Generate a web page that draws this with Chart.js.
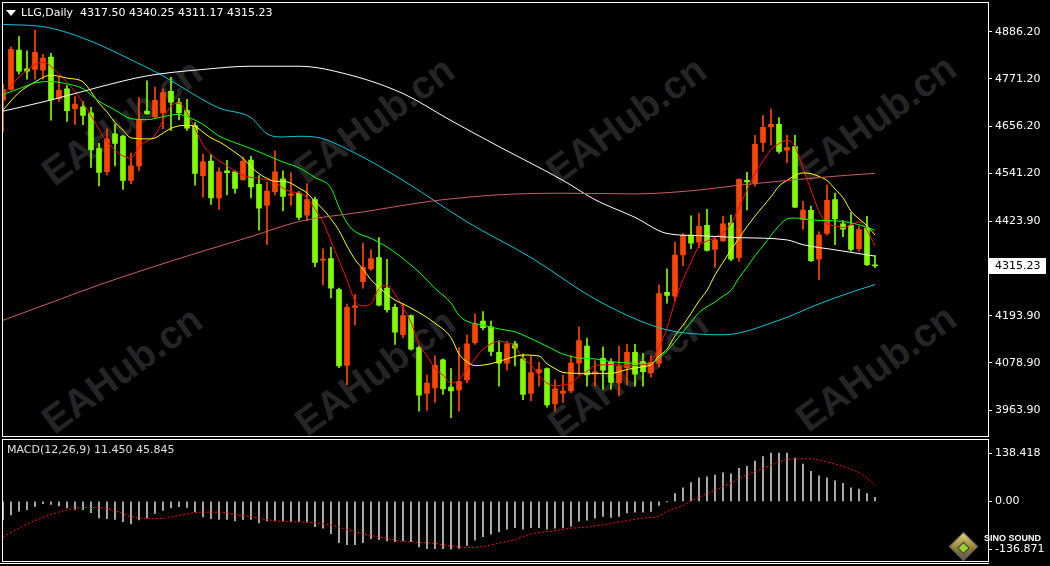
<!DOCTYPE html>
<html>
<head>
<meta charset="utf-8">
<title>LLG,Daily</title>
<script src="https://cdn.jsdelivr.net/npm/chart.js@4.4.1/dist/chart.umd.min.js"></script>
<style>
  html, body { margin: 0; padding: 0; background: #000; }
  body { width: 1050px; height: 566px; position: relative; overflow: hidden; font-family: "DejaVu Sans", sans-serif; }
  .wm { position: absolute; font: bold 39px "Liberation Sans", Arial, sans-serif; color: #252525;
        transform: translate(-50%, -50%) rotate(-36deg); white-space: nowrap; }
  canvas { position: absolute; left: 0; }
  #main { top: 0; }
  #macd { top: 437px; }
  .box { position: absolute; border: 1px solid #fff; box-sizing: border-box; }
  .hl { position: absolute; height: 1px; background: #fff; }
  .lbl { position: absolute; font-size: 11px; line-height: 14px; white-space: pre; }
  .tri { position: absolute; left: 6px; top: 10px; width: 0; height: 0;
         border-left: 5px solid transparent; border-right: 5px solid transparent; border-top: 6px solid #fff; }
  .logo { position: absolute; left: 953px; top: 536px; width: 19px; height: 19px; transform: rotate(45deg);
          background: linear-gradient(135deg, #e8d27a, #8c7a32 60%, #5a5a5a); border: 1px solid #777; }
  .logo i { position: absolute; left: 6px; top: 6px; width: 7px; height: 7px; background: #9acd32; border: 1px solid #333; }
  .sino { position: absolute; left: 984px; top: 533px; font: bold 9px "Liberation Sans", Arial, sans-serif; color: #fff; }
</style>
</head>
<body>
<div class="wm" style="left:122px;top:122px">EAHub.cn</div>
<div class="wm" style="left:374px;top:120px">EAHub.cn</div>
<div class="wm" style="left:626px;top:120px">EAHub.cn</div>
<div class="wm" style="left:876px;top:118px">EAHub.cn</div>
<div class="wm" style="left:122px;top:370px">EAHub.cn</div>
<div class="wm" style="left:375px;top:372px">EAHub.cn</div>
<div class="wm" style="left:628px;top:374px">EAHub.cn</div>
<div class="wm" style="left:876px;top:368px">EAHub.cn</div>

<canvas id="main" width="1050" height="437"></canvas>
<canvas id="macd" width="1050" height="129"></canvas>

<div class="box" style="left:2px;top:2px;width:987px;height:435px"></div>
<div class="box" style="left:2px;top:439px;width:987px;height:123px"></div>
<div class="hl" style="left:0;top:563px;width:989px"></div>

<div class="tri"></div>
<div class="lbl" style="left:21px;top:6px;color:#fff">LLG,Daily  4317.50 4340.25 4311.17 4315.23</div>
<div class="lbl" style="left:7px;top:443px;color:#e0e0e0">MACD(12,26,9) 11.450 45.845</div>

<div class="logo"><i></i></div>
<div class="sino">SINO SOUND</div>

<script>
// daily candles, oldest first (orange = up, green = down)
const open = [4719.2, 4745.8, 4841.5, 4796.1, 4794.4, 4792.8, 4824.3, 4722.2, 4747.4, 4698.7,
  4703.4, 4688.6, 4601.5, 4545.0, 4637.5, 4632.1, 4523.8, 4559.2, 4692.6, 4678.5,
  4688.6, 4741.0, 4713.7, 4694.9, 4657.3, 4535.6, 4570.9, 4480.8, 4547.4, 4545.0,
  4525.5, 4573.3, 4514.4, 4462.7, 4496.3, 4527.8, 4486.9, 4492.6, 4439.2, 4476.8,
  4329.3, 4333.3, 4257.3, 4072.8, 4214.0, 4276.8, 4308.1, 4335.6, 4261.0, 4214.0,
  4147.4, 4194.4, 4116.1, 4004.6, 4018.0, 4086.2, 4019.6, 4012.6, 4037.5, 4127.9,
  4181.0, 4166.9, 4104.3, 4078.4, 4125.5, 4088.6, 4004.6, 4054.9, 4065.0, 3978.7,
  4004.6, 4010.2, 4078.4, 4119.9, 4051.6, 4090.2, 4080.8, 4029.7, 4067.4, 4104.3,
  4082.2, 4054.9, 4078.4, 4250.9, 4241.5, 4342.0, 4390.4, 4373.3, 4414.0, 4355.2,
  4376.3, 4420.3, 4335.6, 4523.8, 4517.5, 4616.3, 4654.0, 4660.3, 4597.5, 4606.2,
  4428.1, 4450.9, 4331.6, 4394.4, 4476.8, 4418.0, 4414.0, 4357.5, 4407.8, 4317.50];
const high = [4759.2, 4849.3, 4874.4, 4839.8, 4890.2, 4831.4, 4833.7, 4774.9, 4755.1, 4727.9,
  4716.1, 4702.0, 4613.9, 4649.3, 4661.0, 4634.0, 4590.4, 4725.5, 4766.9, 4751.4,
  4747.4, 4774.9, 4723.9, 4721.5, 4665.0, 4588.1, 4586.7, 4555.2, 4572.6, 4547.4,
  4580.3, 4582.7, 4535.6, 4519.9, 4596.1, 4547.4, 4542.7, 4496.3, 4516.1, 4483.1,
  4356.8, 4360.8, 4261.0, 4222.0, 4245.5, 4370.9, 4355.2, 4384.3, 4331.6, 4222.0,
  4222.0, 4196.1, 4119.9, 4049.3, 4096.3, 4088.6, 4065.0, 4116.1, 4147.4, 4198.5,
  4203.8, 4181.0, 4133.3, 4131.6, 4131.6, 4100.3, 4096.3, 4080.8, 4066.7, 4037.5,
  4049.3, 4096.3, 4166.9, 4139.6, 4084.6, 4117.5, 4088.6, 4119.9, 4123.9, 4123.9,
  4101.9, 4096.3, 4269.0, 4308.1, 4373.3, 4394.4, 4437.5, 4443.8, 4453.3, 4382.7,
  4436.1, 4439.2, 4527.8, 4543.4, 4633.7, 4682.2, 4698.0, 4676.8, 4633.7, 4633.7,
  4472.8, 4461.0, 4398.4, 4512.1, 4492.6, 4425.7, 4445.5, 4412.6, 4436.1, 4340.25];
const low = [4641.5, 4744.0, 4782.7, 4770.9, 4770.9, 4770.9, 4670.4, 4716.1, 4667.4, 4659.6,
  4659.6, 4555.2, 4510.4, 4537.3, 4559.2, 4502.0, 4516.1, 4547.4, 4684.6, 4676.8,
  4649.3, 4645.5, 4671.4, 4645.5, 4512.1, 4483.1, 4465.0, 4453.3, 4488.6, 4492.6,
  4523.8, 4480.8, 4402.2, 4366.9, 4488.6, 4449.3, 4462.7, 4428.1, 4425.7, 4313.7,
  4269.0, 4237.5, 4067.4, 4025.7, 4170.9, 4261.0, 4304.3, 4218.0, 4202.2, 4123.9,
  4139.6, 4109.7, 3960.8, 3963.2, 3982.7, 4002.2, 3945.0, 3960.8, 4029.7, 4123.9,
  4159.2, 4096.3, 4021.9, 4061.0, 4071.4, 3989.0, 3986.7, 4022.0, 3970.9, 3960.8,
  3982.7, 4006.2, 4049.3, 4022.0, 4022.0, 4014.0, 4014.0, 3998.5, 4025.7, 4022.0,
  4022.0, 4043.9, 4069.1, 4224.3, 4229.8, 4316.1, 4357.5, 4359.7, 4351.4, 4312.1,
  4374.9, 4327.9, 4326.2, 4451.6, 4509.7, 4594.5, 4610.2, 4590.4, 4566.9, 4457.3,
  4404.5, 4326.2, 4282.2, 4390.4, 4366.9, 4386.7, 4351.4, 4351.4, 4316.1, 4311.17];
const close = [4745.0, 4843.2, 4790.4, 4790.4, 4836.1, 4821.9, 4719.8, 4743.4, 4694.0, 4709.7,
  4682.2, 4598.4, 4543.4, 4625.0, 4613.9, 4523.8, 4559.2, 4671.4, 4686.2, 4719.1,
  4738.0, 4714.4, 4688.6, 4650.9, 4541.0, 4569.3, 4480.8, 4545.0, 4542.7, 4504.3,
  4570.9, 4508.1, 4456.3, 4498.0, 4545.0, 4484.6, 4490.9, 4433.7, 4476.8, 4323.9,
  4331.6, 4261.0, 4071.4, 4214.0, 4218.0, 4312.1, 4333.3, 4219.6, 4208.6, 4153.8,
  4194.4, 4112.1, 3999.8, 4029.7, 4072.8, 4015.6, 4010.2, 4033.7, 4125.5, 4173.3,
  4164.6, 4106.7, 4078.4, 4125.5, 4114.5, 4002.2, 4054.9, 4062.7, 3976.3, 4015.6,
  4010.2, 4078.4, 4133.3, 4049.3, 4057.3, 4061.0, 4031.4, 4070.4, 4104.3, 4051.6,
  4057.3, 4080.8, 4247.9, 4243.2, 4342.0, 4390.4, 4370.9, 4411.6, 4352.8, 4378.7,
  4417.8, 4331.6, 4526.2, 4519.9, 4611.6, 4653.3, 4660.3, 4594.5, 4603.9, 4458.7,
  4451.6, 4327.9, 4390.4, 4475.2, 4429.8, 4404.6, 4355.2, 4403.9, 4318.5, 4315.23];

// moving averages as [bar, price]
const maRed = [[0,4731],[2,4775.6],[5,4812.1],[7,4782.7],[9,4740.3],[11,4681.5],[13,4618.0],[16,4578.0],
  [17,4606.2],[19,4634.4],[21,4705.0],[22,4712.1],[23,4688.6],[24,4650.9],[25,4610.9],[26,4587.4],
  [28,4559.2],[30,4535.6],[32,4528.6],[34,4519.9],[35,4505.0],[36,4496.3],[37,4493.3],[38,4481.5],
  [39,4453.3],[40,4422.7],[41,4375.6],[42,4328.6],[43,4281.5],[44,4229.8],[45,4218.0],[46,4222.7],
  [47,4260.3],[48,4267.4],[49,4246.2],[50,4213.3],[51,4177.9],[52,4123.9],[53,4095.6],[54,4065.0],
  [55,4048.6],[56,4029.7],[57,4036.8],[58,4065.0],[59,4088.6],[60,4112.1],[62,4130.9],[63,4128.6],
  [64,4119.2],[65,4088.6],[66,4074.5],[67,4048.6],[68,4029.7],[69,4022.7],[70,4025.0],[71,4029.7],
  [72,4046.2],[73,4058.0],[74,4072.1],[76,4074.5],[78,4072.1],[80,4074.5],[81,4081.5],[82,4116.8],
  [83,4163.8],[84,4229.8],[85,4281.5],[86,4323.9],[87,4363.8],[88,4375.6],[89,4385.0],[90,4396.8],
  [91,4418.0],[92,4458.0],[93,4500.3],[94,4540.3],[95,4570.9],[96,4599.1],[97,4613.2],[98,4622.0],
  [99,4606.2],[100,4552.1],[101,4500.3],[102,4448.6],[103,4418.0],[104,4413.3],[105,4408.6],
  [106,4415.6],[107,4422.7],[108,4402.2],[109,4363.8]];
const maYellow = [[0,4695.6],[2,4738.0],[4,4763.9],[6,4780.3],[8,4773.3],[10,4763.9],[11,4740.3],
  [12,4712.1],[13,4690.9],[14,4665.0],[15,4646.2],[16,4627.4],[18,4625.0],[19,4627.4],[20,4639.2],
  [21,4650.9],[22,4656.8],[23,4658.0],[24,4655.6],[25,4641.5],[26,4627.4],[27,4618.0],[28,4606.2],
  [29,4592.1],[30,4578.0],[31,4556.8],[32,4540.3],[33,4528.6],[34,4521.5],[35,4521.5],[36,4516.8],
  [37,4505.0],[38,4493.3],[39,4472.1],[40,4453.3],[41,4429.8],[42,4401.6],[43,4363.8],[44,4330.9],
  [45,4307.4],[46,4281.5],[47,4262.7],[48,4246.2],[49,4232.1],[50,4222.7],[52,4201.5],[54,4175.6],
  [56,4140.3],[57,4100.3],[58,4081.5],[59,4072.1],[61,4076.8],[63,4088.6],[65,4098.0],[67,4095.6],
  [68,4076.8],[69,4065.0],[70,4055.6],[72,4053.3],[74,4053.3],[76,4053.3],[78,4062.7],[80,4069.7],
  [81,4074.5],[82,4095.6],[83,4112.1],[84,4145.0],[85,4170.9],[86,4199.1],[87,4229.8],[88,4255.6],
  [89,4293.3],[90,4323.9],[91,4354.5],[92,4382.7],[93,4411.0],[94,4436.8],[95,4460.3],[96,4483.9],
  [97,4509.7],[98,4523.8],[99,4535.6],[100,4542.0],[101,4540.3],[102,4533.3],[103,4523.8],
  [104,4502.7],[105,4481.5],[106,4448.6],[107,4429.8],[108,4413.3],[109,4390.4]];
const maGreen = [[0,4733.3],[2,4747.4],[4,4761.5],[6,4765.0],[8,4759.1],[10,4747.4],[12,4716.8],
  [14,4695.6],[16,4674.4],[18,4672.1],[20,4679.1],[22,4685.0],[23,4679.1],[25,4660.3],[27,4632.1],
  [29,4615.6],[31,4601.5],[33,4585.0],[35,4568.6],[37,4554.5],[39,4530.9],[41,4505.0],[42,4458.0],
  [43,4420.3],[44,4399.1],[46,4382.7],[48,4361.5],[50,4333.3],[52,4300.3],[54,4260.3],[56,4225.0],
  [57,4194.4],[58,4180.3],[60,4170.9],[62,4161.5],[64,4154.4],[66,4138.0],[68,4119.2],[70,4100.3],
  [72,4090.9],[74,4088.6],[76,4081.5],[78,4079.1],[80,4076.8],[81,4076.8],[82,4090.9],[83,4107.4],
  [84,4130.9],[85,4154.4],[86,4177.9],[87,4201.5],[88,4215.6],[89,4227.4],[90,4241.5],[91,4255.6],
  [92,4286.2],[93,4312.1],[94,4340.3],[95,4363.8],[96,4389.7],[97,4413.3],[98,4429.8],[99,4432.1],
  [101,4427.4],[103,4425.7],[105,4423.8],[107,4415.6],[109,4402.2]];
const maCyan = [[0,4904.3],[5,4898.7],[8,4884.5],[12,4854.9],[16,4818.0],[20,4778.7],[23,4743.4],
  [27,4700.3],[31,4676.8],[33,4637.5],[35,4629.7],[37,4631.4],[39,4629.7],[44,4590.4],[50,4523.8],
  [58,4422.7],[66,4335.6],[74,4234.4],[81,4170.9],[84,4155.2],[87,4149.0],[90,4147.4],[97,4182.7],
  [102,4222.7],[106,4251.0],[109,4269.7]];
const maWhite = [[0,4692.6],[6,4719.9],[12,4751.4],[18,4778.7],[25,4794.4],[31,4802.2],[37,4802.2],
  [43,4782.7],[50,4735.6],[56,4669.7],[62,4606.2],[70,4523.8],[74,4476.8],[79,4433.7],[83,4394.4],
  [87,4389.0],[92,4384.3],[98,4378.7],[100,4367.0],[104,4354.5],[109,4339.2]];
const maSalmon = [[0,4182.7],[6,4225.8],[12,4269.0],[18,4308.1],[25,4351.4],[31,4386.7],[37,4423.4],
  [45,4446.9],[54,4474.4],[62,4488.6],[70,4492.6],[79,4490.9],[87,4500.3],[92,4512.1],[105,4535.6],
  [109,4541.0]];

// MACD(12,26,9): histogram per bar, signal read as [bar, value]
const macdHist = [-53.2, -38.6, -28.3, -24.0, -14.6, -6.9, -8.6, -12.9, -18.9, -23.2,
  -24.0, -32.6, -47.2, -49.8, -51.5, -58.3, -64.4, -53.2, -47.2, -34.3,
  -25.7, -18.9, -15.4, -17.2, -30.0, -44.6, -49.8, -51.5, -51.5, -55.8,
  -51.5, -51.5, -61.8, -55.8, -55.8, -55.8, -58.3, -58.3, -58.3, -72.9,
  -77.2, -92.7, -118.4, -124.4, -124.4, -118.4, -107.3, -109.8, -113.3, -115.8,
  -113.3, -115.8, -130.4, -136.0, -135.5, -135.5, -136.871, -135.0, -127.0, -111.5,
  -101.2, -94.4, -87.5, -79.9, -75.5, -79.9, -75.5, -75.5, -79.9, -77.2,
  -75.5, -71.3, -56.9, -54.3, -48.4, -43.3, -45.9, -43.3, -33.1, -31.4,
  -31.4, -28.8, -11.9, -0.9, 22.1, 39.0, 53.5, 67.1, 70.5, 75.5,
  81.5, 79.0, 94.2, 100.2, 115.5, 128.2, 138.418, 138.4, 138.4, 123.9,
  107.0, 85.8, 73.0, 67.1, 58.6, 51.8, 39.0, 34.8, 22.1, 11.450];
const macdSignal = [[0,-102],[2,-76.4],[4,-55],[6,-37.8],[8,-25],[10,-18],[12,-18],[14,-26.8],
  [16,-43.7],[18,-48.9],[20,-48.9],[22,-40.4],[25,-30.9],[27,-30.9],[29,-37.8],[31,-43.7],
  [33,-52.5],[35,-57.6],[37,-59.2],[39,-61.8],[41,-67.9],[43,-80.8],[45,-93.7],[48,-106.5],
  [50,-115],[52,-117.6],[54,-120.9],[56,-127.9],[58,-132.3],[60,-129.7],[62,-119.5],[64,-110],
  [66,-94],[69,-84],[71,-77],[73,-74],[75,-67],[77,-59],[80,-48],[82,-42],[83,-29],[85,-12],
  [86,1],[88,22],[91,52],[93,76],[95,94],[97,113],[98,120],[101,122],[102,118],[104,107],
  [106,92],[107,82],[108,66],[109,45.845]];

const priceTicks = [4886.20, 4771.20, 4656.20, 4541.20, 4423.90, 4193.90, 4078.90, 3963.90];
const macdTicks = [138.418, 0, -136.871];
const lastPrice = close[close.length - 1];

const UP = '#FF4500', DOWN = '#7FFF00';
const candleColors = open.map((o, i) => (close[i] >= o ? UP : DOWN));
const pts = arr => arr.map(([x, y]) => ({ x, y }));
const maLine = (arr, color) => ({
  type: 'line', data: pts(arr), borderColor: color, borderWidth: 1,
  pointRadius: 0, cubicInterpolationMode: 'monotone', order: 0
});

const xScale = { type: 'linear', min: 0, max: 123.125, offset: false, display: false, grid: { offset: false } };
const axisFont = { family: 'DejaVu Sans', size: 11 };

Chart.defaults.animation = false;
Chart.defaults.font.family = 'DejaVu Sans';

const priceTag = {
  id: 'priceTag',
  afterDraw(chart) {
    const { ctx, scales: { y } } = chart;
    const py = Math.round(y.getPixelForValue(lastPrice));
    ctx.save();
    ctx.fillStyle = '#fff';
    ctx.fillRect(989, py - 8, 57, 16);
    ctx.fillStyle = '#000';
    ctx.font = '11px "DejaVu Sans"';
    ctx.textBaseline = 'middle';
    ctx.fillText(lastPrice.toFixed(2), 995, py + 0.5);
    ctx.restore();
  }
};

new Chart(document.getElementById('main'), {
  type: 'bar',
  data: {
    datasets: [
      maLine(maSalmon, '#CD5C5C'),
      maLine(maWhite, '#FFFFFF'),
      maLine(maCyan, '#00C5D5'),
      maLine(maGreen, '#00FF00'),
      maLine(maYellow, '#FFFF00'),
      maLine(maRed, '#FF0000'),
      { data: open.map((o, i) => ({ x: i, y: [o, close[i]] })), backgroundColor: candleColors,
        barThickness: 5, minBarLength: 1, grouped: false, order: 1 },
      { data: open.map((o, i) => ({ x: i, y: [low[i], high[i]] })), backgroundColor: candleColors,
        barThickness: 1, grouped: false, order: 2 }
    ]
  },
  options: {
    responsive: false, devicePixelRatio: 1,
    layout: { padding: { left: 3, top: 3, bottom: 1, right: 0 } },
    plugins: { legend: { display: false }, tooltip: { enabled: false } },
    scales: {
      x: xScale,
      y: {
        position: 'right', min: 3921.5, max: 4940.3,
        afterFit(s) { s.width = 62; },
        afterBuildTicks(s) { s.ticks = priceTicks.map(v => ({ value: v })); },
        ticks: { color: '#fff', font: axisFont, padding: 3, autoSkip: false, callback: v => v.toFixed(2) },
        grid: { drawOnChartArea: false, color: '#fff', tickLength: 4 },
        border: { display: false }
      }
    }
  },
  plugins: [priceTag]
});

new Chart(document.getElementById('macd'), {
  type: 'bar',
  data: {
    datasets: [
      { type: 'line', data: pts(macdSignal), borderColor: '#FF0000', borderWidth: 1, borderDash: [2, 2],
        pointRadius: 0, cubicInterpolationMode: 'monotone', order: 0 },
      { data: macdHist.map((v, i) => ({ x: i, y: v })), backgroundColor: '#C8C8C8',
        barThickness: 1, grouped: false, order: 1 }
    ]
  },
  options: {
    responsive: false, devicePixelRatio: 1,
    layout: { padding: { left: 3, top: 3, bottom: 5, right: 0 } },
    plugins: { legend: { display: false }, tooltip: { enabled: false } },
    scales: {
      x: xScale,
      y: {
        position: 'right', min: -157.8, max: 156.8,
        afterFit(s) { s.width = 62; },
        afterBuildTicks(s) { s.ticks = macdTicks.map(v => ({ value: v })); },
        ticks: { color: '#fff', font: axisFont, padding: 3, autoSkip: false,
                 callback: v => (v === 0 ? '0.00' : v.toFixed(3)) },
        grid: { drawOnChartArea: false, color: '#fff', tickLength: 4 },
        border: { display: false }
      }
    }
  }
});
</script>
</body>
</html>
